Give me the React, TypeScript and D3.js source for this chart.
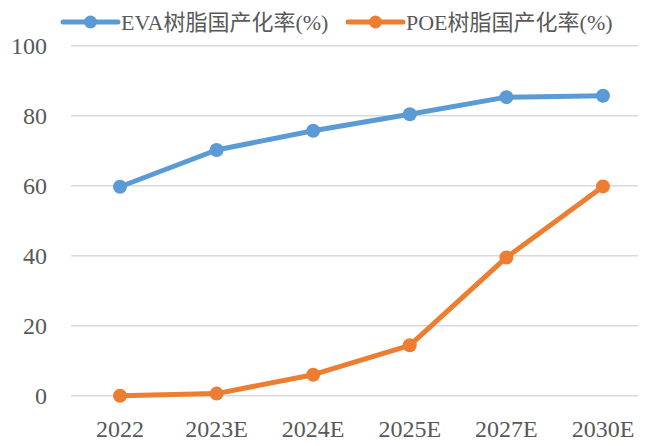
import React, { useEffect, useRef } from "react";
import * as d3 from "d3";

const years = ["2022", "2023E", "2024E", "2025E", "2027E", "2030E"];
const evaValues = [59.7, 70.2, 75.7, 80.4, 85.3, 85.7];
const poeValues = [0, 0.6, 6.0, 14.4, 39.5, 59.8];
const yTicks = [0, 20, 40, 60, 80, 100];
const seriesNames = ["EVA树脂国产化率(%)", "POE树脂国产化率(%)"];
const seriesColors = ["#5B9BD5", "#ED7D31"];

const FONT = "'Liberation Serif', 'Noto Sans CJK SC', serif";

const App = () => {
  const svgRef = useRef<SVGSVGElement>(null);

  useEffect(() => {
    const width = 651, height = 446;
    const svg = d3.select(svgRef.current)
      .attr("width", width)
      .attr("height", height)
      .style("background", "#ffffff")
      .style("font-family", FONT);
    svg.selectAll("*").remove();

    const gridLeft = 71, gridRight = 638;

    const xScale = d3.scalePoint<string>()
      .domain(years)
      .range([120, 603]);

    const yScale = d3.scaleLinear()
      .domain([0, 100])
      .range([395.7, 45.7]);

    // gridlines
    svg.append("g")
      .selectAll("line")
      .data(yTicks)
      .enter().append("line")
      .attr("x1", gridLeft)
      .attr("x2", gridRight)
      .attr("y1", d => yScale(d))
      .attr("y2", d => yScale(d))
      .attr("stroke", "#D9D9D9")
      .attr("stroke-width", 1.5);

    // y labels
    svg.append("g")
      .selectAll("text")
      .data(yTicks)
      .enter().append("text")
      .attr("x", 47)
      .attr("y", d => yScale(d))
      .attr("dy", "0.35em")
      .attr("text-anchor", "end")
      .attr("font-size", "24px")
      .attr("fill", "#595959")
      .text(d => d);

    // x labels
    svg.append("g")
      .selectAll("text")
      .data(years)
      .enter().append("text")
      .attr("x", d => xScale(d)!)
      .attr("y", 429)
      .attr("dy", "0.35em")
      .attr("text-anchor", "middle")
      .attr("font-size", "24px")
      .attr("fill", "#595959")
      .text(d => d);

    const series = [evaValues, poeValues];
    const line = d3.line<number>()
      .x((_, i) => xScale(years[i])!)
      .y(d => yScale(d));

    series.forEach((vals, s) => {
      svg.append("path")
        .datum(vals)
        .attr("d", line)
        .attr("fill", "none")
        .attr("stroke", seriesColors[s])
        .attr("stroke-width", 5)
        .attr("stroke-linejoin", "round")
        .attr("stroke-linecap", "round");

      svg.append("g")
        .selectAll("circle")
        .data(vals)
        .enter().append("circle")
        .attr("cx", (_, i) => xScale(years[i])!)
        .attr("cy", d => yScale(d))
        .attr("r", 7)
        .attr("fill", seriesColors[s]);
    });

    // legend
    const legendX = [63, 348];
    seriesNames.forEach((name, i) => {
      const g = svg.append("g").attr("transform", `translate(${legendX[i]}, 22)`);
      g.append("line")
        .attr("x1", 0).attr("x2", 55)
        .attr("stroke", seriesColors[i])
        .attr("stroke-width", 5)
        .attr("stroke-linecap", "round");
      g.append("circle")
        .attr("cx", 27.5)
        .attr("r", 6.5)
        .attr("fill", seriesColors[i]);
      g.append("text")
        .attr("x", 58)
        .attr("dy", "0.35em")
        .attr("font-size", "22px")
        .attr("fill", "#595959")
        .text(name);
    });
  }, []);

  return (
    <svg ref={svgRef} style={{ position: "absolute", left: 0, top: 0 }}></svg>
  );
};

export default App;
